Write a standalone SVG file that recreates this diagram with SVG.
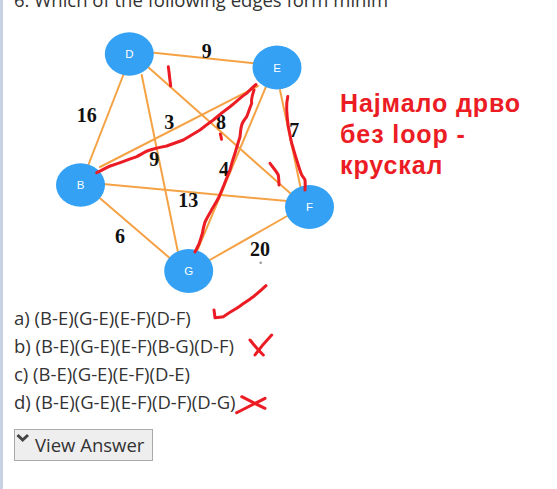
<svg xmlns="http://www.w3.org/2000/svg" width="557" height="489" viewBox="0 0 557 489">
<style>
.bg{fill:#ffffff}
.edge{stroke:#f5a245;stroke-width:2;fill:none;stroke-linecap:round}
.node{fill:#34a1f5}
.nl{fill:#ffffff;font-family:"Liberation Sans",Arial,sans-serif;font-size:11.5px;text-anchor:middle}
.w{fill:#111111;font-family:"Liberation Serif","Times New Roman",serif;font-weight:bold;font-size:20px;text-anchor:middle}
.opt{fill:#333333;font-family:"Open Sans",sans-serif;font-size:18.5px}
.red{fill:#ec1c24;font-family:"Liberation Sans",Arial,sans-serif;font-weight:bold;font-size:25px;letter-spacing:0.9px}
.ink{stroke:#ec1c24;stroke-width:3;fill:none;stroke-linecap:round;stroke-linejoin:round}
</style>
<rect class="bg" x="0" y="0" width="557" height="489"/>
<rect x="0" y="0" width="3" height="489" fill="#c9d1e4"/>
<text x="14" y="6.5" class="opt" fill="#3a3a3a">6. Which of the following edges form minim</text>

<g id="connectors">
  <line class="edge" x1="154" y1="52.7" x2="254" y2="63.3"/>
  <line class="edge" x1="123.3" y1="75" x2="88.3" y2="165"/>
  <line class="edge" x1="141.7" y1="75" x2="180" y2="262"/>
  <line class="edge" x1="148.3" y1="67.3" x2="290" y2="193"/>
  <line class="edge" x1="100" y1="167" x2="258" y2="86"/>
  <line class="edge" x1="266" y1="86.7" x2="195" y2="256"/>
  <line class="edge" x1="280" y1="90" x2="300.7" y2="188"/>
  <line class="edge" x1="103" y1="184" x2="287" y2="201"/>
  <line class="edge" x1="100" y1="198.3" x2="172" y2="260"/>
  <line class="edge" x1="208" y1="261" x2="289" y2="215"/>
</g>

<g id="weights">
  <text class="w" x="206.7" y="58">9</text>
  <text class="w" x="86.7" y="121.5">16</text>
  <text class="w" x="169.3" y="129">3</text>
  <text class="w" x="221" y="129">8</text>
  <text class="w" x="294.3" y="136.5">7</text>
  <text class="w" x="154.3" y="166">9</text>
  <text class="w" x="224" y="175.5">4</text>
  <text class="w" x="188.3" y="206.5">13</text>
  <text class="w" x="120" y="243">6</text>
  <text class="w" x="260" y="256">20</text>
</g>
<circle cx="260.7" cy="262.7" r="1.3" fill="#999999"/>

<g id="node-D"><ellipse class="node" cx="129.3" cy="54" rx="24.5" ry="21.7"/><text class="nl" x="129.3" y="58">D</text></g>
<g id="node-E"><ellipse class="node" cx="277" cy="67.5" rx="24.5" ry="22"/><text class="nl" x="277" y="71.5">E</text></g>
<g id="node-B"><ellipse class="node" cx="80.5" cy="185" rx="24.5" ry="21.7"/><text class="nl" x="80.5" y="189">B</text></g>
<g id="node-F"><ellipse class="node" cx="309.5" cy="207" rx="24.5" ry="22"/><text class="nl" x="309.5" y="211">F</text></g>
<g id="node-G"><ellipse class="node" cx="188.7" cy="271" rx="24.5" ry="22"/><text class="nl" x="188.7" y="275">G</text></g>

<g id="annotations">
  <path class="ink" d="M96.7,172.7 C105,169 108,166 113.3,165 C122,162 130,159 136.7,156.7 C142,154 146,151 150,150 C156,148 161,147 166.7,146 C172,144 178,142 183.3,140 C190,136 195,133 200,130 C205,126 209,123 213.3,120 C219,115 224,111 230,106.7 C236,102 241,97 246.7,93.3 C250,90 253,87 256,84.5"/>
  <path class="ink" d="M254,90 C252,96 251,101 251.7,103.3 C249,110 248,114 246.7,116.7 C244,120 242.5,122 241.7,125 C240.5,129 240.5,133 240,136.7 C238,143 236.5,148 235,153.3 C233,159 231.5,164 230,170 C227.5,176 225.5,181 223.3,186.7 C221.5,191 220,195 218.3,198.3 C216,203 213,207 211,211 C208,216 206.5,219 205,222 C203.5,227 203,229 202.5,233 C201,238 200,241 199,244 C197.5,247 196,250 195,252"/>
  <path class="ink" d="M287.8,96.5 C286.5,102 286.5,106 286.7,110 C287,116 287.5,121 288.3,126.7 C289.5,132 290.5,138 291.7,143.3 C293.5,149 295,155 296.7,160 C298.5,166 300,171 301.7,175 C303,177 304,178 305,180 C305.5,184 305.2,187 305,190"/>
  <path class="ink" d="M168.3,66.7 C168.8,70 169.2,73 169.3,75 C169.8,79 170.2,82 170.7,86"/>
  <path class="ink" d="M270,163.3 C272,166 273.5,168 275,170 C276.5,172 277.5,173.5 278.3,175 C278.8,179 279,182 279,185"/>
  <path class="ink" d="M220.3,134 C221,136 221.3,137.5 221.5,139.3"/>
  <path class="ink" d="M214,310 C214.5,313 214.7,315.5 215,317.7 C218,317.5 221,317.2 223.3,316.7 C228,313.5 232,311 236.7,308.3 C242,304.5 248,300.5 253.3,296.7 C258,293 262,289.5 266,285.7"/>
  <path class="ink" d="M250,340 C254,345 258,350 263.3,355"/>
  <path class="ink" d="M271.7,335 C266,341 260,348 255,355"/>
  <path class="ink" d="M241.7,396.7 C248,400 256,404 265,408.3"/>
  <path class="ink" d="M265,398.3 C256,403 246,408 236.7,412.7"/>
</g>

<g id="note">
  <text class="red" x="340" y="112.3">Најмало дрво</text>
  <text class="red" x="340" y="143.3">без loop -</text>
  <text class="red" x="340" y="174">крускал</text>
</g>

<g id="options">
  <text class="opt" x="14" y="325">a) (B-E)(G-E)(E-F)(D-F)</text>
  <text class="opt" x="14" y="353.3">b) (B-E)(G-E)(E-F)(B-G)(D-F)</text>
  <text class="opt" x="14" y="380.8">c) (B-E)(G-E)(E-F)(D-E)</text>
  <text class="opt" x="14" y="408.6">d) (B-E)(G-E)(E-F)(D-F)(D-G)</text>
</g>

<g id="view-answer">
  <rect x="14.5" y="429.5" width="138" height="31" fill="#eeeeee" stroke="#aaaaaa" stroke-width="1"/>
  <polyline points="17.5,435 22.7,440 28,435" fill="none" stroke="#444444" stroke-width="3" stroke-linejoin="miter"/>
  <text class="opt" x="35" y="451.7">View Answer</text>
</g>
</svg>
